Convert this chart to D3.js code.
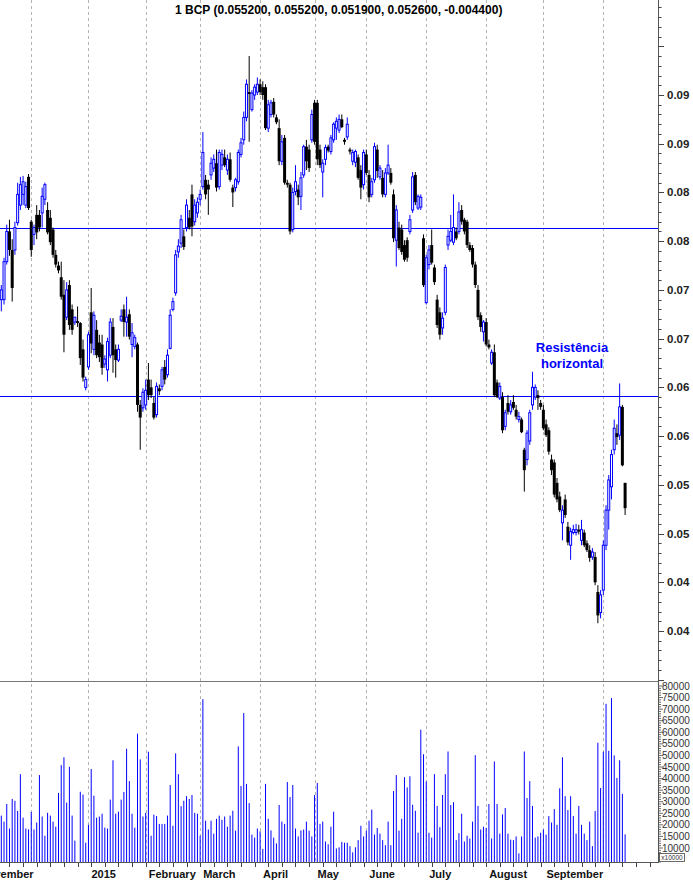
<!DOCTYPE html>
<html><head><meta charset="utf-8">
<script src="https://cdn.jsdelivr.net/npm/d3@7"></script>
<style>
html,body{margin:0;padding:0;background:#fff;}
svg{display:block;font-family:"Liberation Sans",Arial,sans-serif;}
</style></head><body>
<svg id="c" width="693" height="880"></svg>
<script>
const open = [
.0740,.0740,.0779,.0810,.0791,.0791,.0819,.0837,.0848,.0837,
.0866,.0820,.0807,.0827,.0827,.0829,.0843,.0832,.0824,.0812,
.0786,.0775,.0763,.0745,.0722,.0755,.0730,.0717,.0718,.0716,
.0689,.0650,.0671,.0727,.0689,.0709,.0696,.0694,.0674,.0668,
.0683,.0712,.0689,.0678,.0719,.0730,.0717,.0725,.0694,.0692,
.0694,.0632,.0629,.0632,.0658,.0650,.0634,.0622,.0649,.0651,
.0671,.0663,.0690,.0730,.0747,.0789,.0798,.0805,.0814,.0824,
.0848,.0820,.0829,.0843,.0856,.0863,.0858,.0868,.0875,.0880,
.0856,.0878,.0886,.0873,.0884,.0855,.0855,.0861,.0889,.0904,
.0927,.0953,.0935,.0950,.0953,.0961,.0958,.0958,.0916,.0930,
.0943,.0927,.0916,.0882,.0906,.0860,.0858,.0812,.0851,.0853,
.0846,.0868,.0897,.0894,.0904,.0942,.0942,.0894,.0871,.0884,
.0897,.0892,.0904,.0916,.0914,.0925,.0904,.0907,.0894,.0882,
.0881,.0886,.0873,.0858,.0889,.0868,.0848,.0863,.0894,.0866,
.0865,.0848,.0870,.0870,.0848,.0801,.0814,.0812,.0796,.0801,
.0810,.0832,.0868,.0834,.0835,.0803,.0737,.0776,.0796,.0773,
.0740,.0727,.0711,.0727,.0796,.0801,.0799,.0810,.0810,.0832,
.0822,.0820,.0796,.0793,.0776,.0750,.0724,.0707,.0717,.0694,
.0675,.0686,.0655,.0639,.0640,.0610,.0634,.0625,.0635,.0627,
.0617,.0617,.0586,.0576,.0595,.0632,.0640,.0642,.0634,.0627,
.0612,.0606,.0576,.0573,.0552,.0538,.0511,.0535,.0507,.0488,
.0501,.0501,.0504,.0493,.0501,.0490,.0483,.0476,.0476,.0440,
.0419,.0442,.0488,.0524,.0548,.0586,.0603,.0601,.0630,.0552];
const high = [
.0755,.0783,.0817,.0822,.0802,.0820,.0860,.0866,.0867,.0861,
.0869,.0822,.0817,.0837,.0832,.0855,.0860,.0840,.0832,.0814,
.0791,.0779,.0779,.0760,.0758,.0760,.0735,.0722,.0733,.0717,
.0699,.0661,.0707,.0752,.0728,.0719,.0704,.0704,.0683,.0701,
.0721,.0721,.0694,.0694,.0730,.0735,.0743,.0730,.0716,.0704,
.0696,.0637,.0649,.0658,.0675,.0658,.0640,.0655,.0653,.0671,
.0678,.0689,.0730,.0742,.0791,.0802,.0827,.0812,.0843,.0832,
.0858,.0843,.0845,.0853,.0912,.0868,.0863,.0886,.0889,.0894,
.0894,.0894,.0894,.0889,.0891,.0858,.0865,.0894,.0906,.0933,
.0966,.0990,.0955,.0961,.0968,.0966,.0964,.0961,.0945,.0945,
.0947,.0930,.0925,.0909,.0909,.0863,.0860,.0855,.0878,.0858,
.0871,.0899,.0904,.0899,.0935,.0945,.0945,.0899,.0884,.0899,
.0899,.0909,.0922,.0927,.0930,.0930,.0906,.0927,.0896,.0894,
.0894,.0889,.0878,.0894,.0894,.0873,.0865,.0901,.0899,.0878,
.0873,.0875,.0899,.0875,.0853,.0837,.0820,.0817,.0801,.0804,
.0827,.0871,.0871,.0848,.0848,.0807,.0786,.0796,.0812,.0776,
.0745,.0732,.0727,.0776,.0812,.0827,.0848,.0814,.0840,.0837,
.0824,.0822,.0799,.0796,.0779,.0755,.0727,.0719,.0721,.0699,
.0689,.0694,.0658,.0655,.0645,.0627,.0642,.0637,.0642,.0632,
.0625,.0619,.0588,.0606,.0627,.0666,.0653,.0647,.0637,.0632,
.0617,.0609,.0581,.0576,.0557,.0543,.0529,.0540,.0512,.0506,
.0509,.0510,.0509,.0514,.0504,.0493,.0488,.0485,.0481,.0447,
.0442,.0493,.0529,.0560,.0586,.0617,.0612,.0654,.0632,.0552];
const low = [
.0728,.0735,.0776,.0785,.0738,.0786,.0816,.0832,.0837,.0834,
.0832,.0784,.0796,.0802,.0810,.0814,.0837,.0807,.0796,.0783,
.0773,.0767,.0740,.0686,.0719,.0709,.0704,.0714,.0712,.0673,
.0656,.0647,.0668,.0685,.0683,.0680,.0676,.0663,.0670,.0656,
.0680,.0665,.0660,.0676,.0717,.0702,.0702,.0699,.0681,.0689,
.0625,.0586,.0625,.0627,.0637,.0639,.0617,.0619,.0642,.0647,
.0653,.0660,.0689,.0728,.0744,.0783,.0793,.0791,.0810,.0812,
.0805,.0816,.0824,.0837,.0853,.0843,.0827,.0863,.0871,.0851,
.0853,.0873,.0876,.0868,.0861,.0835,.0851,.0858,.0886,.0899,
.0923,.0902,.0933,.0945,.0950,.0950,.0945,.0914,.0912,.0927,
.0927,.0920,.0878,.0878,.0858,.0855,.0807,.0809,.0847,.0837,
.0832,.0865,.0873,.0871,.0901,.0899,.0878,.0875,.0845,.0878,
.0891,.0889,.0901,.0904,.0911,.0916,.0899,.0904,.0889,.0878,
.0876,.0863,.0843,.0853,.0868,.0840,.0845,.0860,.0865,.0863,
.0845,.0845,.0868,.0858,.0799,.0774,.0791,.0786,.0779,.0779,
.0807,.0829,.0837,.0832,.0832,.0753,.0735,.0771,.0776,.0755,
.0711,.0699,.0704,.0724,.0791,.0799,.0796,.0801,.0807,.0817,
.0807,.0793,.0789,.0773,.0752,.0719,.0707,.0697,.0692,.0689,
.0673,.0640,.0639,.0637,.0603,.0606,.0622,.0622,.0627,.0617,
.0614,.0603,.0543,.0570,.0591,.0627,.0637,.0627,.0627,.0606,
.0599,.0581,.0560,.0537,.0532,.0522,.0493,.0516,.0488,.0473,
.0499,.0498,.0499,.0488,.0486,.0481,.0471,.0473,.0447,.0408,
.0413,.0437,.0483,.0504,.0535,.0581,.0591,.0596,.0569,.0519];
const close = [
.0750,.0779,.0810,.0791,.0752,.0814,.0848,.0858,.0861,.0856,
.0834,.0791,.0814,.0809,.0814,.0846,.0858,.0809,.0799,.0786,
.0776,.0770,.0743,.0704,.0750,.0714,.0709,.0722,.0716,.0680,
.0660,.0658,.0704,.0695,.0724,.0683,.0681,.0670,.0679,.0697,
.0717,.0683,.0678,.0689,.0723,.0717,.0722,.0702,.0706,.0701,
.0632,.0619,.0645,.0647,.0642,.0642,.0619,.0651,.0646,.0668,
.0658,.0683,.0724,.0738,.0786,.0795,.0822,.0794,.0837,.0814,
.0815,.0837,.0840,.0848,.0891,.0848,.0853,.0880,.0884,.0855,
.0891,.0889,.0878,.0884,.0863,.0850,.0863,.0891,.0901,.0927,
.0961,.0951,.0952,.0958,.0961,.0953,.0950,.0916,.0940,.0942,
.0930,.0922,.0882,.0902,.0860,.0858,.0810,.0850,.0861,.0845,
.0865,.0897,.0882,.0875,.0930,.0902,.0884,.0878,.0880,.0896,
.0893,.0906,.0920,.0923,.0925,.0917,.0902,.0920,.0892,.0891,
.0892,.0865,.0855,.0891,.0870,.0845,.0861,.0897,.0872,.0875,
.0848,.0870,.0878,.0860,.0803,.0832,.0793,.0789,.0781,.0783,
.0822,.0866,.0840,.0846,.0845,.0755,.0783,.0791,.0778,.0758,
.0714,.0704,.0721,.0773,.0805,.0810,.0814,.0803,.0830,.0820,
.0810,.0796,.0791,.0776,.0755,.0722,.0712,.0717,.0694,.0691,
.0686,.0642,.0640,.0651,.0606,.0624,.0625,.0632,.0629,.0620,
.0620,.0604,.0565,.0603,.0624,.0650,.0650,.0639,.0630,.0608,
.0601,.0584,.0565,.0540,.0535,.0524,.0524,.0519,.0491,.0502,
.0504,.0504,.0502,.0504,.0488,.0483,.0475,.0481,.0450,.0416,
.0437,.0488,.0524,.0555,.0581,.0608,.0599,.0630,.0570,.0526];
const volume = [
24000,21400,29000,18400,31200,30400,26000,41900,23100,18400,
18000,25600,18000,21000,41500,23600,15300,25200,24000,21400,
19200,33800,45800,49200,29600,45100,24000,13200,2000,34300,
33100,12300,20000,44100,32600,23100,23600,24800,18800,18400,
30900,47900,24800,25700,30900,34200,52900,38900,24800,18800,
59400,48300,23600,25200,51600,15300,24400,23800,20400,20400,
20400,24000,37200,19600,50900,41900,28100,30400,32400,31200,
32900,25200,24800,15300,74300,21800,18000,21800,16200,22600,
24000,22200,23600,19200,24000,26100,17500,53900,36800,68300,
37700,29400,15800,14500,18400,17200,9600,37700,22600,17600,
14500,12000,28600,21400,20400,38500,32000,37200,18400,15000,
17600,18000,21400,17500,15000,32900,38100,20400,21400,12800,
11600,19200,25700,9800,10300,12600,12300,12300,10800,8100,
10300,13400,19600,15000,17500,21800,26600,15800,18600,16200,
13400,11200,21400,11200,34600,41500,17500,22600,40600,36200,
41000,28700,26100,16600,61100,50500,38700,16600,14500,41900,
28200,19000,32900,41900,51700,28600,29800,13400,16400,24800,
12800,15300,14100,21400,50100,28200,18000,19200,18700,29000,
14100,47400,29000,16200,24500,27300,16200,13600,13400,15000,
7700,15000,51700,31600,38900,28200,14500,15000,16600,18000,
15800,23800,21000,26800,20000,35800,49200,32400,26400,32400,
23800,16200,28200,20000,16200,13400,21400,10800,26000,55500,
35900,51600,72300,52000,74800,50000,40300,47900,33400,15900];

const monthLabels = ["November","2015","February","March","April","May","June","July","August","September"];
const monthLabelIdx = [-9,32,53,73,95,115,134,156,178,199];
const gridIdx = [11,32,53,73,95,115,134,156,178,199,221];
const priceTicks = [0.040,0.045,0.050,0.055,0.060,0.065,0.070,0.075,0.080,0.085,0.090,0.095];
const volTicks = [10000,15000,20000,25000,30000,35000,40000,45000,50000,55000,60000,65000,70000,75000,80000];
const resistance = [0.0814,0.0641];
const annotation = ["Resistência","horizontal"];
const symbol = "1 BCP";

const svg = d3.select("#c");
const plotR = 658, panelSep = 681, volBottom = 862;
const n = close.length;
const x = d3.scaleLinear().domain([0, n-1]).range([1.3, 625.1]);
const y = d3.scaleLinear().domain([0.040, 0.095]).range([631, 95]);
const yv = d3.scaleLinear().domain([10000, 80000]).range([848, 686]);

const defs = svg.append("defs");
defs.append("clipPath").attr("id","cp").append("rect").attr("x",0).attr("y",0).attr("width",plotR).attr("height",panelSep);
defs.append("clipPath").attr("id","cv").append("rect").attr("x",0).attr("y",panelSep).attr("width",plotR).attr("height",volBottom-panelSep);

// month gridlines
svg.append("g").selectAll("line").data(gridIdx).join("line")
  .attr("x1",d=>Math.round(x(d))+0.5).attr("x2",d=>Math.round(x(d))+0.5).attr("y1",0).attr("y2",volBottom)
  .attr("stroke","#b4b4b4").attr("stroke-width",1).attr("stroke-dasharray","3,3");

// title
const L = n-1;
const f6 = v => v.toFixed(6);
svg.append("text").attr("x",175).attr("y",14).attr("font-size","12px").attr("font-weight","bold").attr("fill","#000")
  .text(`${symbol} (${f6(open[L])}, ${f6(high[L])}, ${f6(low[L])}, ${f6(close[L])}, ${f6(close[L]-close[L-1])})`);

const gp = svg.append("g").attr("clip-path","url(#cp)");
// resistance lines
gp.selectAll("line.res").data(resistance).join("line").attr("class","res")
  .attr("x1",0).attr("x2",plotR).attr("y1",d=>Math.round(y(d))+0.5).attr("y2",d=>Math.round(y(d))+0.5)
  .attr("stroke","#0000ff").attr("stroke-width",1);

const idx = d3.range(n);
// wicks
gp.selectAll("line.w").data(idx).join("line").attr("class","w")
  .attr("x1",i=>x(i)).attr("x2",i=>x(i)).attr("y1",i=>y(high[i])).attr("y2",i=>y(low[i]))
  .attr("stroke",i=>close[i]>=open[i]?"#0000ff":"#000").attr("stroke-width",1);
// bodies
gp.selectAll("rect.b").data(idx).join("rect").attr("class","b")
  .attr("x",i=>close[i]>=open[i]? x(i)-1 : x(i)-1.5)
  .attr("width",i=>close[i]>=open[i]? 2 : 3)
  .attr("y",i=>y(Math.max(open[i],close[i])))
  .attr("height",i=>Math.max(1, Math.abs(y(open[i])-y(close[i]))))
  .attr("fill",i=>close[i]>=open[i]?"#fff":"#000")
  .attr("stroke",i=>close[i]>=open[i]?"#0000ff":"none")
  .attr("stroke-width",1);

// annotation
svg.append("g").selectAll("text").data(annotation).join("text")
  .attr("x",572).attr("y",(d,i)=>352+i*16).attr("text-anchor","middle")
  .attr("font-size","13px").attr("font-weight","bold").attr("fill","#0000ff").text(d=>d);

// volume bars
const gv = svg.append("g").attr("clip-path","url(#cv)");
gv.selectAll("line").data(idx).join("line")
  .attr("x1",i=>x(i)).attr("x2",i=>x(i))
  .attr("y1",i=>Math.min(volBottom, yv(volume[i]))).attr("y2",volBottom)
  .attr("stroke","#0000ff").attr("stroke-width",1);

// frame lines
svg.append("line").attr("x1",0).attr("x2",plotR).attr("y1",panelSep+0.5).attr("y2",panelSep+0.5).attr("stroke","#777");
svg.append("line").attr("x1",0).attr("x2",plotR).attr("y1",volBottom+0.5).attr("y2",volBottom+0.5).attr("stroke","#555");
svg.append("line").attr("x1",plotR+0.5).attr("x2",plotR+0.5).attr("y1",0).attr("y2",volBottom+1).attr("stroke","#555");

// price axis ticks
const minorP = d3.range(35,105).map(k=>k/1000);
svg.append("g").selectAll("line").data(minorP).join("line")
  .attr("x1",plotR+0.5).attr("x2",d=> (Math.round(d*1000)%5===0)? plotR+6 : plotR+3.5)
  .attr("y1",d=>Math.round(y(d))+0.5).attr("y2",d=>Math.round(y(d))+0.5)
  .attr("stroke","#444");
const trunc2 = d => (Math.floor(d*100+1e-9)/100).toFixed(2);
svg.append("g").selectAll("text").data(priceTicks).join("text")
  .attr("x",667).attr("y",d=>y(d)+4).attr("font-size","11.5px").attr("font-weight","bold").attr("fill","#222")
  .text(trunc2);

// volume axis ticks
const minorV = d3.range(4000,81000,1000);
svg.append("g").selectAll("line").data(minorV).join("line")
  .attr("x1",plotR+0.5).attr("x2",d=> d%5000===0 ? plotR+5 : plotR+3)
  .attr("y1",d=>yv(d)).attr("y2",d=>yv(d)).attr("stroke","#444").attr("stroke-width",0.8);
svg.append("g").selectAll("text").data(volTicks).join("text")
  .attr("x",662).attr("y",d=>yv(d)+3.5).attr("font-size","10px").attr("fill","#333").text(d=>d);
svg.append("rect").attr("x",659.5).attr("y",853.5).attr("width",25).attr("height",8).attr("fill","#fff").attr("stroke","#444").attr("stroke-width",0.8);
svg.append("text").attr("x",672).attr("y",860).attr("text-anchor","middle").attr("font-size","6.5px").attr("fill","#333").text("x10000");

// bottom axis ticks (weekly)
const weekTicks = d3.range(3, 243, 5);
svg.append("g").selectAll("line").data(weekTicks).join("line")
  .attr("x1",i=>Math.round(x(i))+0.5).attr("x2",i=>Math.round(x(i))+0.5)
  .attr("y1",volBottom+1).attr("y2",volBottom+5).attr("stroke","#444");

// month labels
svg.append("g").selectAll("text").data(monthLabels).join("text")
  .attr("x",(d,i)=>x(monthLabelIdx[i])+3).attr("y",878)
  .attr("font-size","11px").attr("font-weight","bold").attr("fill","#111").text(d=>d);
</script>
</body></html>
